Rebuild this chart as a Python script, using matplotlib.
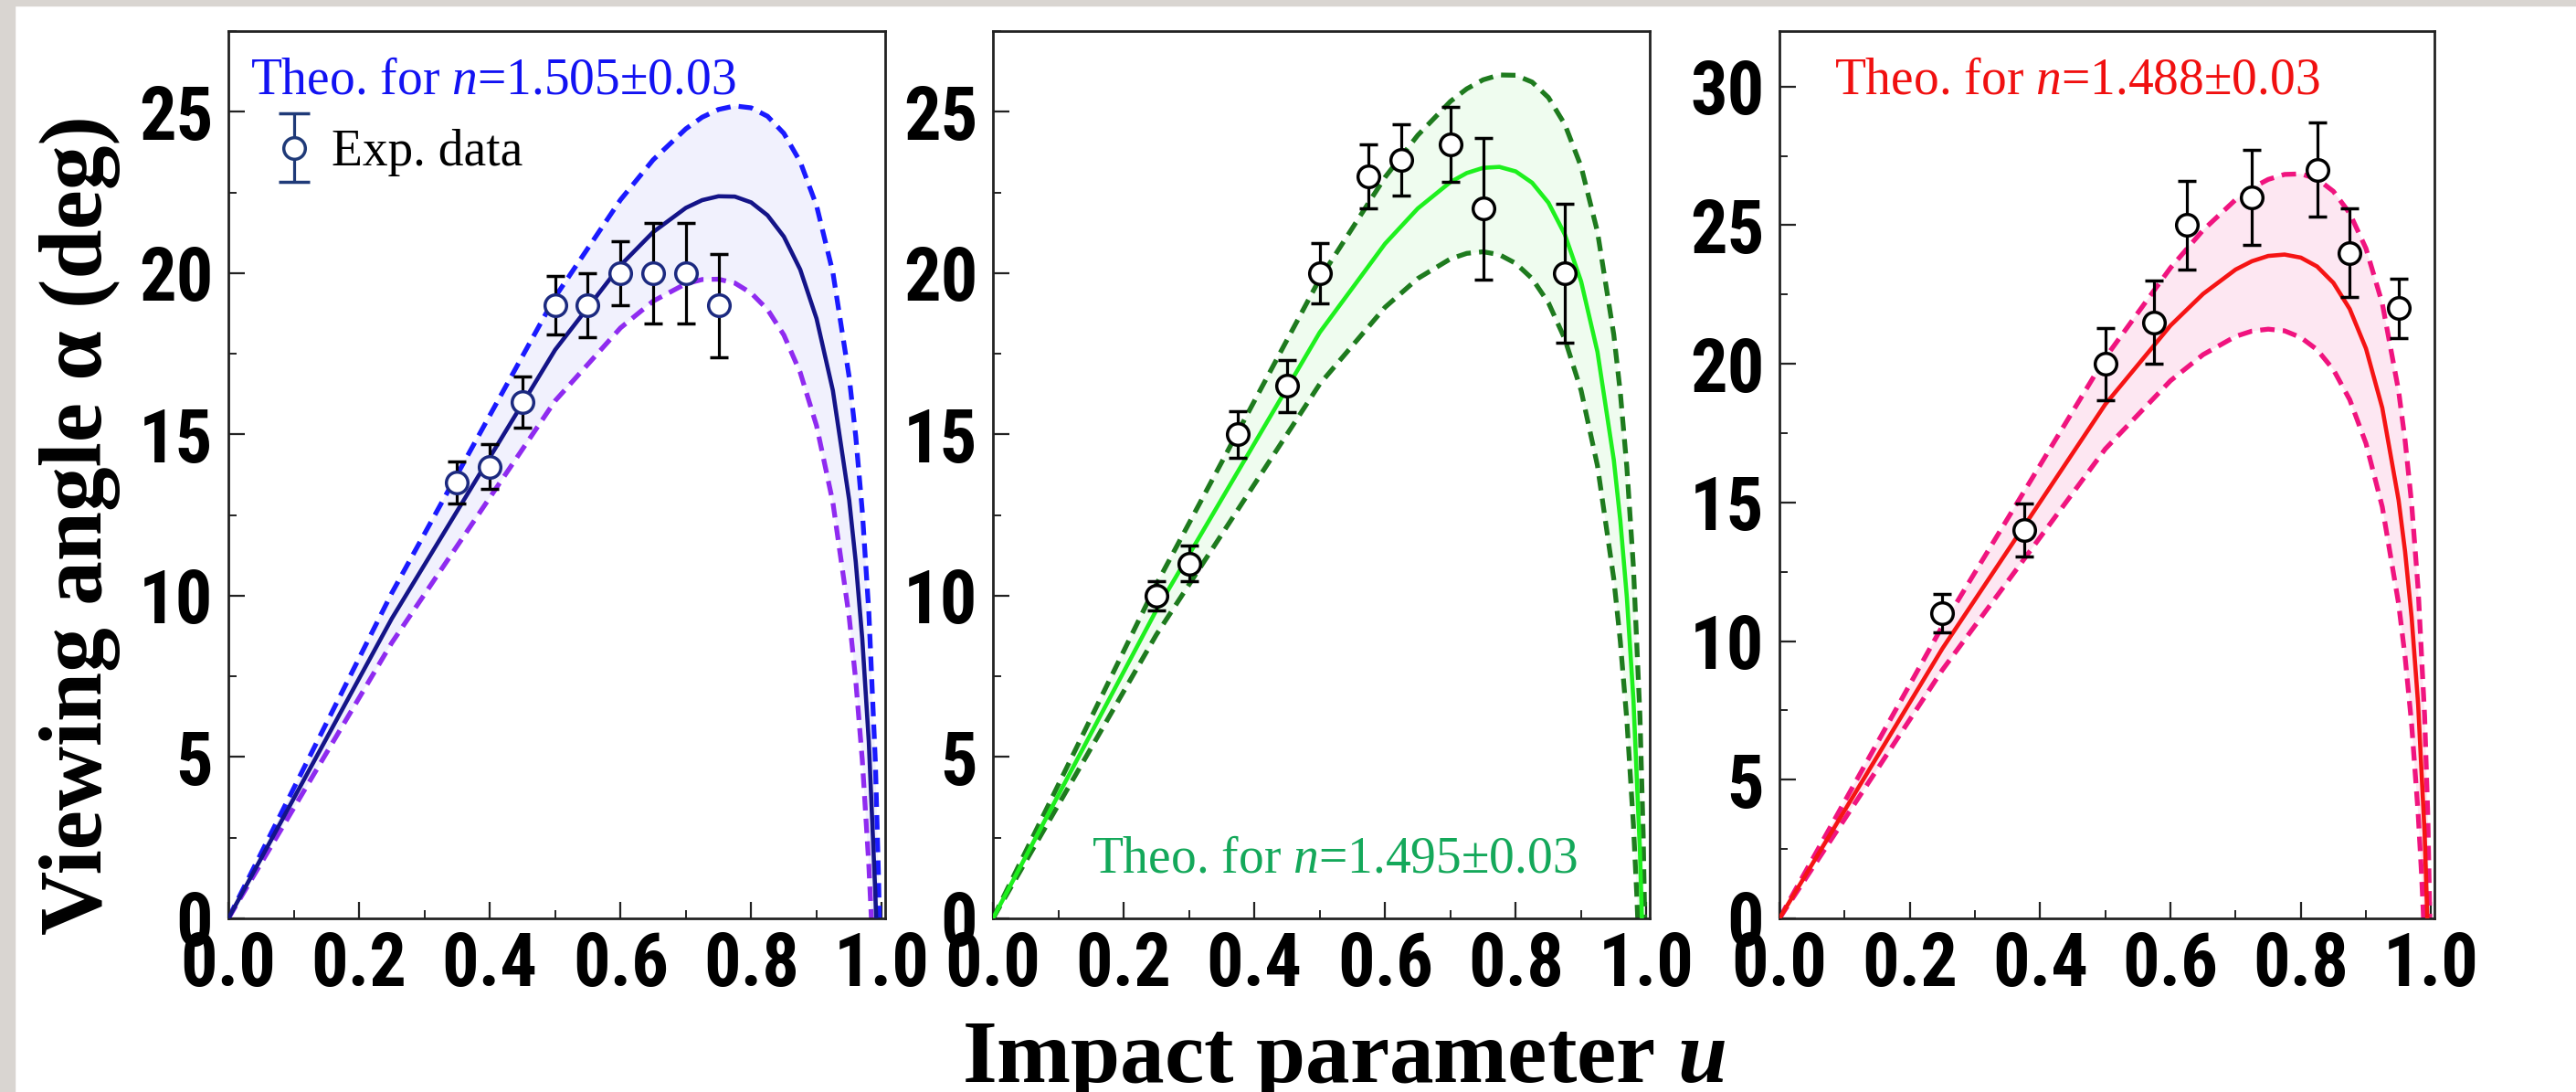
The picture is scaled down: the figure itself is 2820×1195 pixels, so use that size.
import numpy as np
import matplotlib
matplotlib.use("Agg")
import matplotlib.pyplot as plt
from matplotlib import font_manager as fm
from matplotlib.legend_handler import HandlerErrorbar
from matplotlib.patches import Rectangle
from matplotlib.ticker import MultipleLocator

# ---------------------------------------------------------------- data
# impact parameter samples used for the theoretical curves
U_GRID = [0.0, 0.25, 0.5, 0.6, 0.65, 0.7, 0.725, 0.75, 0.775, 0.8, 0.825, 0.85, 0.875,
          0.9, 0.925, 0.95, 0.96, 0.97, 0.98]

# Panel 1 : n = 1.505 +/- 0.03
p1_up_u = U_GRID + [0.99, 0.995, 0.9961]
p1_up_a = [0, 10.08, 19.26, 22.27, 23.51, 24.47, 24.83, 25.07, 25.18, 25.12, 24.86, 24.33, 23.45,
           22.09, 20.02, 16.77, 14.94, 12.62, 9.50, 4.85, 1.15, 0.0]
p1_mid_u = U_GRID + [0.99, 0.9912]
p1_mid_a = [0, 9.29, 17.62, 20.24, 21.27, 22.02, 22.26, 22.38, 22.37, 22.19, 21.79, 21.13, 20.11,
            18.59, 16.36, 12.96, 11.05, 8.66, 5.47, 0.75, 0.0]
p1_lo_u = U_GRID + [0.9839]
p1_lo_a = [0, 8.54, 16.04, 18.30, 19.13, 19.67, 19.80, 19.81, 19.69, 19.38, 18.87, 18.08, 16.92,
           15.27, 12.89, 9.33, 7.37, 4.91, 1.66, 0.0]
p1_exp_u = [0.35, 0.40, 0.45, 0.50, 0.55, 0.60, 0.65, 0.70, 0.75]
p1_exp_a = [13.5, 14.0, 16.0, 19.0, 19.0, 20.0, 20.0, 20.0, 19.0]
p1_exp_e = [0.65, 0.7, 0.8, 0.9, 1.0, 1.0, 1.55, 1.55, 1.6]

# Panel 2 : n = 1.495 +/- 0.03
p2_up_u = U_GRID + [0.99, 0.995, 0.9973]
p2_up_a = [0, 10.35, 19.82, 22.97, 24.27, 25.32, 25.71, 25.99, 26.14, 26.13, 25.92, 25.44, 24.61,
           23.30, 21.28, 18.09, 16.29, 13.98, 10.90, 6.28, 2.58, 0.0]
p2_mid_u = U_GRID + [0.99, 0.993]
p2_mid_a = [0, 9.55, 18.16, 20.91, 22.00, 22.82, 23.10, 23.26, 23.29, 23.15, 22.80, 22.18, 21.20,
            19.74, 17.56, 14.21, 12.33, 9.95, 6.79, 2.09, 0.0]
p2_lo_u = U_GRID + [0.985, 0.9866]
p2_lo_a = [0, 8.79, 16.56, 18.94, 19.83, 20.44, 20.61, 20.66, 20.57, 20.30, 19.83, 19.08, 17.96,
           16.36, 14.03, 10.52, 8.58, 6.14, 2.91, 0.81, 0.0]
p2_exp_u = [0.25, 0.30, 0.375, 0.45, 0.50, 0.575, 0.625, 0.70, 0.75, 0.875]
p2_exp_a = [10.0, 11.0, 15.0, 16.5, 20.0, 23.0, 23.5, 24.0, 22.0, 20.0]
p2_exp_e = [0.45, 0.55, 0.72, 0.8, 0.93, 1.0, 1.1, 1.16, 2.2, 2.15]

# Panel 3 : n = 1.488 +/- 0.03
p3_up_u = U_GRID + [0.99, 0.995, 0.998]
p3_up_a = [0, 10.54, 20.22, 23.46, 24.82, 25.92, 26.34, 26.65, 26.83, 26.85, 26.67, 26.22, 25.43,
           24.16, 22.18, 19.03, 17.24, 14.96, 11.89, 7.29, 3.60, 0.0]
p3_mid_u = U_GRID + [0.99, 0.9941]
p3_mid_a = [0, 9.73, 18.54, 21.38, 22.52, 23.40, 23.70, 23.89, 23.94, 23.83, 23.51, 22.92, 21.98,
            20.55, 18.41, 15.09, 13.23, 10.87, 7.73, 3.05, 0.0]
p3_lo_u = U_GRID + [0.985, 0.9875, 0.9883]
p3_lo_a = [0, 8.96, 16.93, 19.39, 20.33, 20.99, 21.18, 21.25, 21.19, 20.95, 20.51, 19.79, 18.71,
           17.13, 14.84, 11.36, 9.43, 7.01, 3.80, 1.70, 0.46, 0.0]
p3_exp_u = [0.25, 0.375, 0.50, 0.575, 0.625, 0.725, 0.825, 0.875, 0.95]
p3_exp_a = [11.0, 14.0, 20.0, 21.5, 25.0, 26.0, 27.0, 24.0, 22.0]
p3_exp_e = [0.7, 0.95, 1.3, 1.5, 1.6, 1.7, 1.7, 1.6, 1.07]

theo_labels = ["Theo. for $n$=1.505\u00b10.03", "Theo. for $n$=1.495\u00b10.03", "Theo. for $n$=1.488\u00b10.03"]
legend_label = "Exp. data"
x_label = r"Impact parameter $\mathbfit{u}$"
y_label = "Viewing angle \u03b1 (deg)"
x_ticks = [0.0, 0.2, 0.4, 0.6, 0.8, 1.0]
x_tick_labels = ["0.0", "0.2", "0.4", "0.6", "0.8", "1.0"]
y_ticks_a = [0, 5, 10, 15, 20, 25]
y_tick_labels_a = ["0", "5", "10", "15", "20", "25"]
y_ticks_b = [0, 5, 10, 15, 20, 25, 30]
y_tick_labels_b = ["0", "5", "10", "15", "20", "25", "30"]

# ---------------------------------------------------------------- fonts
names = {f.name for f in fm.fontManager.ttflist}
if "Liberation Sans Narrow" in names:
    TICK_FP = fm.FontProperties(family="Liberation Sans Narrow", weight="bold", size=61)
elif "Roboto Condensed" in names:
    TICK_FP = fm.FontProperties(family="Roboto Condensed", weight="bold", size=58)
else:
    TICK_FP = fm.FontProperties(family="Liberation Sans", weight="bold", size=53)

SERIF = "Liberation Serif"
plt.rcParams["mathtext.fontset"] = "custom"
plt.rcParams["mathtext.rm"] = SERIF
plt.rcParams["mathtext.it"] = SERIF + ":italic"
plt.rcParams["mathtext.bf"] = SERIF + ":bold"
if "mathtext.bfit" in plt.rcParams:
    plt.rcParams["mathtext.bfit"] = SERIF + ":italic:bold"
else:
    x_label = r"Impact parameter $\mathbf{u}$"

# ---------------------------------------------------------------- figure
W, H = 2820, 1195
fig = plt.figure(figsize=(W / 100, H / 100), dpi=100)
fig.patch.set_facecolor("white")
fig.patches.append(Rectangle((0, 0), 16 / W, 1, transform=fig.transFigure, color="#d9d5d1", zorder=-5))
fig.patches.append(Rectangle((0, 1 - 6 / H), 1, 6 / H, transform=fig.transFigure, color="#d9d5d1", zorder=-5))

bottom = (H - 1005) / H
height = 971 / H
axes_pos = [
    [250 / W, bottom, 719 / W, height],
    [1087 / W, bottom, 719 / W, height],
    [1948 / W, bottom, 717 / W, height],
]

panels = [
    dict(up=(p1_up_u, p1_up_a), mid=(p1_mid_u, p1_mid_a), lo=(p1_lo_u, p1_lo_a),
         exp=(p1_exp_u, p1_exp_a, p1_exp_e),
         c_up="#1a1aff", c_lo="#8f2bf0", c_mid="#141488", fill="#f1f1fd",
         mec="#1c2a80", ylim=27.5, yt=(y_ticks_a, y_tick_labels_a),
         txt=theo_labels[0], tcol="#1212f2", tpos=(0.033, 0.929)),
    dict(up=(p2_up_u, p2_up_a), mid=(p2_mid_u, p2_mid_a), lo=(p2_lo_u, p2_lo_a),
         exp=(p2_exp_u, p2_exp_a, p2_exp_e),
         c_up="#1e7b1e", c_lo="#1e7b1e", c_mid="#1ef01e", fill="#effcef",
         mec="black", ylim=27.5, yt=(y_ticks_a, y_tick_labels_a),
         txt=theo_labels[1], tcol="#14a85a", tpos=(0.150, 0.052)),
    dict(up=(p3_up_u, p3_up_a), mid=(p3_mid_u, p3_mid_a), lo=(p3_lo_u, p3_lo_a),
         exp=(p3_exp_u, p3_exp_a, p3_exp_e),
         c_up="#f0147f", c_lo="#f0147f", c_mid="#f51414", fill="#fde7f2",
         mec="black", ylim=32.0, yt=(y_ticks_b, y_tick_labels_b),
         txt=theo_labels[2], tcol="#f01010", tpos=(0.084, 0.929)),
]

DASH = (0, (3.0, 1.7))
axes = []
for pos, P in zip(axes_pos, panels):
    ax = fig.add_axes(pos)
    axes.append(ax)
    uu, au = P["up"]
    ul, al = P["lo"]
    um, am = P["mid"]
    ax.fill(list(uu) + list(ul)[::-1], list(au) + list(al)[::-1],
            color=P["fill"], lw=0, zorder=1)
    ax.plot(uu, au, color=P["c_up"], lw=3.8, ls=DASH, zorder=2)
    ax.plot(ul, al, color=P["c_lo"], lw=3.8, ls=DASH, zorder=2)
    ax.plot(um, am, color=P["c_mid"], lw=3.3, zorder=3, solid_joinstyle="round")
    eu, ea, ee = P["exp"]
    ax.errorbar(eu, ea, yerr=ee, fmt="o", ms=17, mfc="white", mec=P["mec"], mew=2.5,
                ecolor="black", elinewidth=2.3, capsize=7.5, capthick=2.3, zorder=5)

    ax.set_xlim(0, 1.005)
    ax.set_ylim(0, P["ylim"])
    ax.set_xticks(x_ticks)
    ax.set_xticklabels(x_tick_labels, fontproperties=TICK_FP)
    ax.set_yticks(P["yt"][0])
    ax.set_yticklabels(P["yt"][1], fontproperties=TICK_FP)
    ax.xaxis.set_minor_locator(MultipleLocator(0.1))
    ax.yaxis.set_minor_locator(MultipleLocator(2.5))
    ax.tick_params(which="both", direction="in", top=False, right=False, color="#222222")
    ax.tick_params(which="major", length=13, width=1.6)
    ax.tick_params(which="minor", length=6.5, width=1.4)
    ax.tick_params(axis="x", which="major", pad=9)
    ax.tick_params(axis="y", which="major", pad=12)
    for sp in ax.spines.values():
        sp.set_linewidth(2.0)
        sp.set_color("#222222")

    ax.text(P["tpos"][0], P["tpos"][1], P["txt"], transform=ax.transAxes,
            family=SERIF, fontsize=40, color=P["tcol"], ha="left", va="baseline", zorder=6)

# legend in panel 1
NAVY = "#1f3a78"
proxy = axes[0].errorbar([np.nan], [np.nan], yerr=[1.0], fmt="o", ms=17, mfc="white", mec=NAVY,
                         mew=2.5, ecolor=NAVY, elinewidth=2.3, capsize=12, capthick=2.3)
axes[0].set_xlim(0, 1.005)
axes[0].set_ylim(0, 27.5)
axes[0].legend([proxy], [legend_label], loc="center left", bbox_to_anchor=(0.061, 0.863),
               frameon=False, prop=fm.FontProperties(family=SERIF, size=40),
               handlelength=1.0, handletextpad=0.25, borderpad=0, borderaxespad=0,
               handler_map={type(proxy): HandlerErrorbar(yerr_size=0.67)})

fig.text(0.031, 0.519, y_label, rotation=90, ha="center", va="center",
         family=SERIF, fontweight="bold", fontsize=70)
fig.text(0.5216, 0.0092, x_label, ha="center", va="baseline",
         family=SERIF, fontweight="bold", fontsize=70)

fig.savefig("out.png", dpi=100)
